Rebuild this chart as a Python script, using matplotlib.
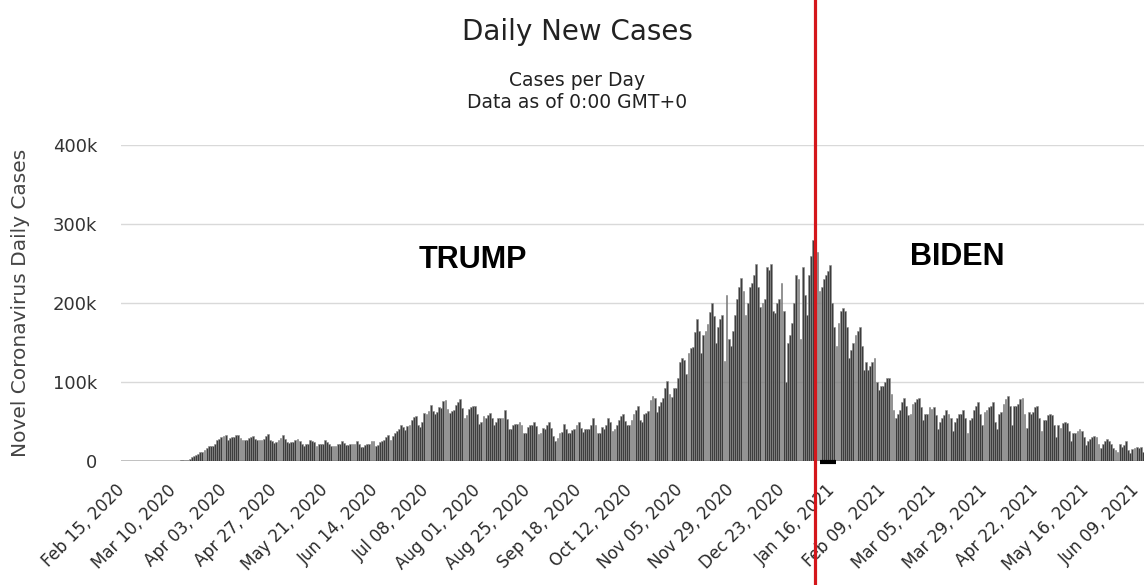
import datetime as dt
import numpy as np
import matplotlib
matplotlib.use("Agg")
import matplotlib.pyplot as plt
import matplotlib.ticker as mticker

start_date = dt.date(2020, 2, 15)

# daily new cases in thousands, first value is Sat Feb 15 2020, then weeks Sun..Sat
cases_k = [0] + [
    0, 0, 0, 0, 0, 0, 0,            # Feb 16
    0, 0, 0, 0, 0, 0, 0,            # Feb 23
    0, 0, 0, 0, 0, 0.1, 0.1,        # Mar 1
    0.1, 0.2, 0.3, 0.4, 0.5, 0.6, 0.7,   # Mar 8
    0.8, 1.2, 1.8, 3, 4.5, 5.8, 7.5,     # Mar 15
    9.2, 10.8, 11.5, 13.5, 17, 19, 19.5, # Mar 22
    19.5, 22, 26, 28, 31, 32, 33.5,      # Mar 29
    27, 29, 31, 31, 33, 33.5, 29,        # Apr 5
    26, 27, 26, 29, 30, 32, 28,          # Apr 12
    26, 26, 26, 28, 32, 34, 27,          # Apr 19
    25, 23, 24, 26, 29, 33, 28,          # Apr 26
    24, 23, 24, 24, 27, 28, 25,          # May 3
    21, 19, 22, 21, 27, 25, 24,          # May 10
    19, 22, 21, 22, 26, 24, 22,          # May 17
    19, 19, 19, 21, 22, 25, 23,          # May 24
    20, 20, 21, 21, 22, 25, 21,          # May 31
    18, 18, 20, 22, 22, 25, 25,          # Jun 7
    19, 20, 24, 25, 27, 31, 33,          # Jun 14
    27, 32, 35, 38, 40, 45, 43,          # Jun 21
    39, 44, 46, 52, 56, 57, 46,          # Jun 28
    43, 50, 61, 60, 63, 71, 63,          # Jul 5
    59, 62, 68, 67, 76, 77, 66,          # Jul 12
    61, 63, 65, 71, 75, 78, 67,          # Jul 19
    55, 58, 66, 68, 70, 70, 59,          # Jul 26
    47, 49, 57, 54, 58, 61, 55,          # Aug 2
    46, 50, 54, 54, 55, 64, 53,          # Aug 9
    41, 40, 46, 47, 47, 49, 45,          # Aug 16
    36, 35, 43, 45, 46, 49, 44,          # Aug 23
    34, 35, 42, 40, 45, 50, 42,          # Aug 30
    32, 25, 29, 35, 37, 47, 40,          # Sep 6
    35, 35, 39, 40, 45, 50, 42,          # Sep 13
    37, 40, 40, 40, 45, 55, 45,          # Sep 20
    36, 35, 43, 40, 45, 55, 50,          # Sep 27
    38, 40, 46, 52, 57, 59, 51,          # Oct 4
    46, 45, 52, 60, 65, 70, 52,          # Oct 11
    49, 60, 61, 63, 77, 82, 80,          # Oct 18
    62, 69, 75, 80, 92, 101, 85,         # Oct 25
    81, 93, 93, 105, 125, 130, 128,      # Nov 1
    110, 137, 143, 144, 163, 180, 165,   # Nov 8
    137, 159, 165, 174, 188, 200, 183,   # Nov 15
    150, 170, 180, 185, 127, 210, 155,   # Nov 22
    145, 164, 185, 205, 220, 232, 215,   # Nov 29
    185, 200, 220, 225, 235, 250, 220,   # Dec 6
    195, 200, 205, 245, 242, 250, 190,   # Dec 13
    187, 200, 205, 225, 190, 100, 150,   # Dec 20
    160, 175, 200, 235, 230, 155, 245,   # Dec 27
    210, 185, 235, 260, 280, 305, 265,   # Jan 3
    215, 220, 230, 235, 240, 248, 200,   # Jan 10
    170, 145, 175, 190, 194, 190, 170,   # Jan 17
    130, 140, 150, 160, 165, 170, 145,   # Jan 24
    115, 125, 115, 120, 125, 130, 100,   # Jan 31
    90, 95, 95, 100, 105, 105, 85,       # Feb 7
    65, 55, 60, 65, 75, 80, 70,          # Feb 14
    58, 60, 72, 75, 78, 80, 68,          # Feb 21
    52, 60, 60, 68, 66, 68, 58,          # Feb 28
    40, 50, 55, 58, 64, 60, 55,          # Mar 7
    38, 50, 55, 60, 60, 65, 55,          # Mar 14
    35, 52, 55, 65, 70, 75, 60,          # Mar 21
    45, 62, 65, 68, 70, 75, 50,          # Mar 28
    40, 60, 62, 72, 78, 82, 70,          # Apr 4
    45, 70, 70, 72, 78, 80, 60,          # Apr 11
    42, 62, 60, 62, 68, 70, 55,          # Apr 18
    38, 52, 52, 58, 60, 58, 45,          # Apr 25
    30, 45, 42, 48, 50, 48, 38,          # May 2
    25, 35, 35, 38, 40, 38, 30,          # May 9
    20, 25, 28, 30, 32, 30, 22,          # May 16
    17, 22, 25, 28, 25, 22, 16,          # May 23
    14, 12, 22, 18, 20, 25, 14,          # May 30
    10, 15, 16, 18, 16, 18, 12,          # Jun 6
    8,                                    # Jun 13
]

y_ticks = [0, 100000, 200000, 300000, 400000]
tick_step_days = 24
n_tick_labels = 21

divider_date = dt.date(2021, 1, 8)      # red line
black_mark = (dt.date(2021, 1, 10), dt.date(2021, 1, 18))
labels = [("TRUMP", dt.date(2020, 7, 30), 254000),
          ("BIDEN", dt.date(2021, 3, 16), 258000)]

cases = np.array(cases_k) * 1000
days = np.arange(len(cases))


def day_of(d):
    return (d - start_date).days


fig = plt.figure(figsize=(11.44, 5.85), dpi=100)
ax = fig.add_axes([121 / 1144, 124 / 585, 1023 / 1144, 316 / 585])

ax.bar(days, cases, width=0.85, color="#3d3d3d", edgecolor="#8e8e8e",
       linewidth=0.4, zorder=3)

ax.set_xlim(-0.5, 483.5)
ax.set_ylim(0, 400000)
ax.set_yticks(y_ticks)
ax.yaxis.set_major_formatter(mticker.FuncFormatter(
    lambda v, p: "0" if v == 0 else f"{int(v / 1000)}k"))
ax.grid(axis="y", color="#d9d9d9", linewidth=1.0, zorder=0)
ax.axhline(0, color="#b8b8b8", linewidth=1.2, zorder=2)
for s in ax.spines.values():
    s.set_visible(False)
ax.tick_params(axis="y", length=0, pad=17, labelsize=13, labelcolor="#333333")

tick_days = [i * tick_step_days for i in range(n_tick_labels)]
tick_names = [(start_date + dt.timedelta(days=d)).strftime("%b %d, %Y")
              for d in tick_days]
ax.set_xticks(tick_days)
ax.set_xticklabels(tick_names, rotation=45, ha="right", va="center",
                   rotation_mode="anchor", fontsize=12, color="#2a2a2a")
ax.tick_params(axis="x", length=0, pad=19)

ax.set_ylabel("Novel Coronavirus Daily Cases", fontsize=14.5, color="#444444")
ax.yaxis.set_label_coords(-91 / 1023, 0.5)

fig.text(577 / 1144, 1 - 32 / 585, "Daily New Cases", ha="center",
         va="center", fontsize=20, color="#222222")
fig.text(577 / 1144, 1 - 80 / 585, "Cases per Day", ha="center",
         va="center", fontsize=13.5, color="#222222")
fig.text(577 / 1144, 1 - 103 / 585, "Data as of 0:00 GMT+0", ha="center",
         va="center", fontsize=13.5, color="#222222")

for name, d, yv in labels:
    ax.text(day_of(d), yv, name, ha="center", va="center", fontsize=22,
            fontweight="bold", family="Liberation Sans", color="#000000",
            zorder=5)

ax.axvline(day_of(divider_date), ymin=-124 / 316, ymax=461 / 316,
           color="#d4161b", linewidth=2.3, clip_on=False, zorder=6)
ax.plot([day_of(black_mark[0]), day_of(black_mark[1])], [-1500, -1500],
        color="black", linewidth=3, solid_capstyle="butt", clip_on=False,
        zorder=5)

fig.savefig("out.png", dpi=100, facecolor="white")
